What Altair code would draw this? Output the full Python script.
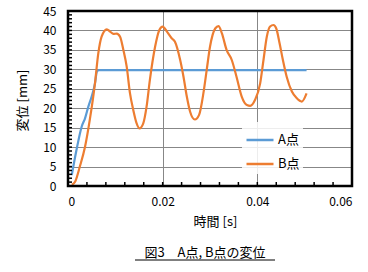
import altair as alt
import pandas as pd

# ---- data ----
a_t = [0.0008, 0.0018, 0.0029, 0.0036, 0.0043, 0.0050, 0.0057, 0.0061, 0.0065, 0.0504]
a_y = [2.8, 9.3, 15.3, 17.4, 20.4, 23.0, 26.4, 29.4, 29.8, 29.8]

b_t = [0.0008, 0.0015, 0.0025, 0.0036, 0.0046, 0.0057, 0.0064, 0.0071, 0.0082, 0.0089,
       0.0096, 0.0103, 0.0110, 0.0117, 0.0124, 0.0131, 0.0138, 0.0145, 0.0151, 0.0159,
       0.0166, 0.0173, 0.0184, 0.0193, 0.0200, 0.0209, 0.0219, 0.0226, 0.0237, 0.0244,
       0.0251, 0.0258, 0.0268, 0.0277, 0.0286, 0.0293, 0.0300, 0.0311, 0.0318, 0.0325,
       0.0335, 0.0346, 0.0356, 0.0367, 0.0378, 0.0385, 0.0395, 0.0406, 0.0413, 0.0420,
       0.0427, 0.0434, 0.0440, 0.0447, 0.0454, 0.0462, 0.0473, 0.0483, 0.0494, 0.0504]
b_y = [0.3, 1.1, 5.0, 10.1, 17.0, 26.4, 34.1, 38.4, 40.3, 39.7,
       39.1, 39.2, 38.4, 35.0, 30.7, 23.8, 19.5, 16.1, 14.8, 16.1,
       20.4, 27.3, 35.8, 40.1, 41.0, 39.7, 38.0, 37.1, 32.4, 28.1,
       23.0, 19.1, 17.1, 18.3, 23.8, 29.8, 35.8, 40.5, 41.1, 39.3,
       35.0, 32.4, 28.1, 23.0, 20.8, 20.6, 22.1, 26.4, 32.4, 38.4,
       41.0, 41.4, 40.5, 36.7, 32.4, 28.1, 24.3, 22.6, 21.7, 23.8]

series_names = ["A点", "B点"]
series_colors = ["#5B9BD5", "#ED7D31"]

x_major = [0, 0.02, 0.04, 0.06]
y_major = [0, 5, 10, 15, 20, 25, 30, 35, 40, 45]
x_minor = [round(0.004 * i, 3) for i in range(1, 15)]
y_minor = list(range(1, 45))

x_title = "時間 [s]"
y_title = "変位 [mm]"
fig_title = "図3　A点, B点の変位"

FONT = "Noto Sans CJK JP"
W, H = 284, 175

df = pd.concat([
    pd.DataFrame({"t": a_t, "v": a_y, "s": series_names[0]}),
    pd.DataFrame({"t": b_t, "v": b_y, "s": series_names[1]}),
])

xs = alt.Scale(domain=[0, 0.06], nice=False, zero=False)
ys = alt.Scale(domain=[0, 45], nice=False)

x_axis = alt.Axis(values=x_major, format=".2~f", title=x_title, grid=True, ticks=False,
                  domain=False, labelPadding=10, titleX=147, titleY=35,
                  titleBaseline="middle", titleAnchor="middle")
y_axis = alt.Axis(values=y_major, format="d", title=y_title, grid=True, ticks=False,
                  domain=False, labelPadding=12, titleX=-46, titleY=89, titleAngle=-90,
                  titleBaseline="middle", titleAnchor="middle")

lines = alt.Chart(df).mark_line(strokeWidth=2.2, interpolate="monotone").encode(
    x=alt.X("t:Q", scale=xs, axis=x_axis),
    y=alt.Y("v:Q", scale=ys, axis=y_axis),
    color=alt.Color("s:N", scale=alt.Scale(domain=series_names, range=series_colors),
                    legend=alt.Legend(orient="none", legendX=174, legendY=111, title=None,
                                      symbolType="stroke", symbolSize=729, symbolStrokeWidth=2.5,
                                      labelFont=FONT, labelFontSize=13, labelColor="black",
                                      rowPadding=2, labelOffset=3, padding=3,
                                      fillColor="rgba(255,255,255,0.85)")),
    order=alt.Order("t:Q"),
)

xt = alt.Chart(pd.DataFrame({"t": x_minor})).mark_rule(color="black", strokeWidth=1.5).encode(
    x=alt.X("t:Q", scale=xs, axis=x_axis), y=alt.value(H), y2=alt.value(H - 4))
yt = alt.Chart(pd.DataFrame({"v": y_minor})).mark_rule(color="black", strokeWidth=1.5).encode(
    y=alt.Y("v:Q", scale=ys, axis=y_axis), x=alt.value(0), x2=alt.value(4))

tdf = pd.DataFrame({"text": [fig_title]})

# plot-area frame (decoration)
frame = alt.Chart(tdf).mark_rect(fill=None, fillOpacity=0, stroke="black", strokeWidth=2.5).encode(
    x=alt.value(0), x2=alt.value(W), y=alt.value(0), y2=alt.value(H))

title_text = alt.Chart(tdf).mark_text(font=FONT, fontSize=13, color="black",
                                      baseline="middle", align="center").encode(
    text="text:N", x=alt.value(137), y=alt.value(242))
underline = alt.Chart(tdf).mark_rule(color="black", strokeWidth=1).encode(
    x=alt.value(67), x2=alt.value(207), y=alt.value(249))

chart = alt.layer(lines, xt, yt, frame, title_text, underline).properties(
    width=W, height=H,
    background="white",
    autosize=alt.AutoSizeParams(type="none"),
    padding={"left": 68, "top": 11, "right": 16, "bottom": 86},
).configure_view(strokeWidth=0).configure_axis(
    gridColor="#878787", gridWidth=1, labelFont=FONT, labelFontSize=12, labelColor="black",
    titleFont=FONT, titleFontSize=13, titleColor="black", titleFontWeight="normal",
)

chart.save("out.html", embed_options={"renderer": "svg", "actions": False})
